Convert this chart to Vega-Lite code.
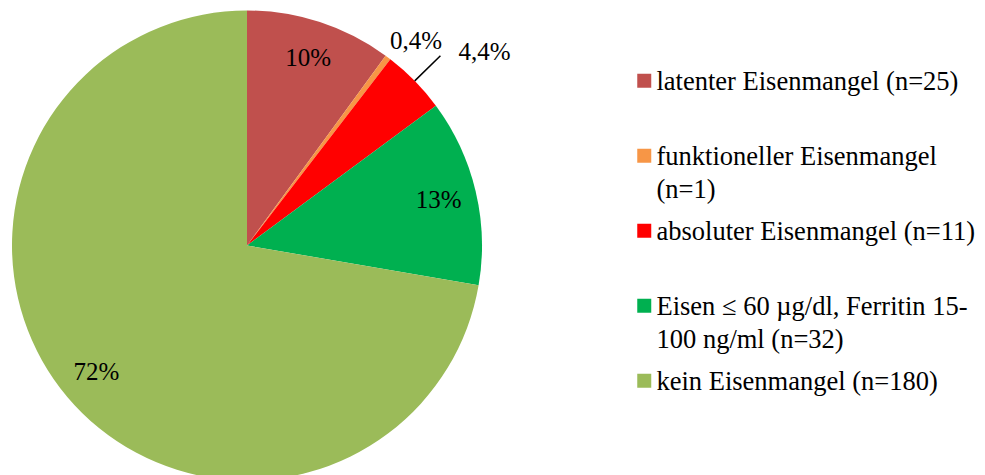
{
  "$schema": "https://vega.github.io/schema/vega-lite/v6.json",
  "width": 494,
  "height": 458,
  "autosize": {"type": "none"},
  "padding": {"left": 0, "top": 16.5, "right": 491, "bottom": 0},
  "background": "white",
  "config": {
    "font": "Liberation Serif",
    "view": {"stroke": null},
    "legend": {"labelFont": "Liberation Serif", "labelFontSize": 26.5, "labelColor": "black"},
    "style": {"guide-label": {"lineHeight": 33, "font": "Liberation Serif", "fontSize": 26.5, "fill": "black"}}
  },
  "data": {
    "values": [
      {"i": 0, "cat": "latenter Eisenmangel (n=25)", "n": 25, "label": "10%"},
      {"i": 1, "cat": "funktioneller Eisenmangel (n=1)", "n": 1, "label": "0,4%"},
      {"i": 2, "cat": "absoluter Eisenmangel (n=11)", "n": 11, "label": "4,4%"},
      {"i": 3, "cat": "Eisen ≤ 60 µg/dl, Ferritin 15-100 ng/ml (n=32)", "n": 32, "label": "13%"},
      {"i": 4, "cat": "kein Eisenmangel (n=180)", "n": 180, "label": "72%"}
    ]
  },
  "encoding": {
    "theta": {"field": "n", "type": "quantitative", "stack": true},
    "order": {"field": "i", "type": "quantitative"}
  },
  "layer": [
    {
      "mark": {"type": "arc", "outerRadius": 235},
      "encoding": {
        "color": {
          "field": "cat",
          "type": "nominal",
          "scale": {
            "domain": ["latenter Eisenmangel (n=25)", "funktioneller Eisenmangel (n=1)", "absoluter Eisenmangel (n=11)", "Eisen ≤ 60 µg/dl, Ferritin 15-100 ng/ml (n=32)", "kein Eisenmangel (n=180)"],
            "range": ["#C0504D", "#F79646", "#FF0000", "#00B050", "#9BBB59"]
          },
          "legend": {
            "title": null,
            "orient": "none",
            "legendX": 631,
            "legendY": 60,
            "direction": "vertical",
            "symbolType": "M-1,-2.286H1V-0.286H-1Z",
            "symbolSize": 196,
            "symbolStrokeWidth": 0,
            "symbolOpacity": 1,
            "labelFont": "Liberation Serif",
            "labelFontSize": 26.5,
            "labelColor": "black",
            "labelBaseline": "alphabetic",
            "labelOffset": -1,
            "labelLimit": 500,
            "rowPadding": 15,
            "gridAlign": "all",
            "padding": 0,
            "labelExpr": "datum.value == 'funktioneller Eisenmangel (n=1)' ? ['funktioneller Eisenmangel', '(n=1)'] : datum.value == 'Eisen ≤ 60 µg/dl, Ferritin 15-100 ng/ml (n=32)' ? ['Eisen ≤ 60 µg/dl, Ferritin 15-', '100 ng/ml (n=32)'] : datum.label"
          }
        }
      }
    },
    {
      "mark": {"type": "arc", "innerRadius": 235, "outerRadius": 271, "padAngle": 1, "fillOpacity": 0, "stroke": "black", "strokeWidth": 1.5},
      "encoding": {
        "strokeOpacity": {"condition": {"test": "datum.i == 2", "value": 1}, "value": 0}
      }
    },
    {
      "mark": {"type": "text", "radius": 197, "font": "Liberation Serif", "fontSize": 25, "color": "black"},
      "encoding": {
        "text": {"condition": {"test": "datum.i == 0 || datum.i == 3 || datum.i == 4", "field": "label", "type": "nominal"}, "value": ""}
      }
    },
    {
      "mark": {"type": "text", "radius": 265, "dx": 10, "dy": 7.5, "font": "Liberation Serif", "fontSize": 25, "color": "black"},
      "encoding": {
        "text": {"condition": {"test": "datum.i == 1", "field": "label", "type": "nominal"}, "value": ""}
      }
    },
    {
      "mark": {"type": "text", "radius": 271, "dx": 18, "dy": -4, "align": "left", "font": "Liberation Serif", "fontSize": 25, "color": "black"},
      "encoding": {
        "text": {"condition": {"test": "datum.i == 2", "field": "label", "type": "nominal"}, "value": ""}
      }
    }
  ]
}
